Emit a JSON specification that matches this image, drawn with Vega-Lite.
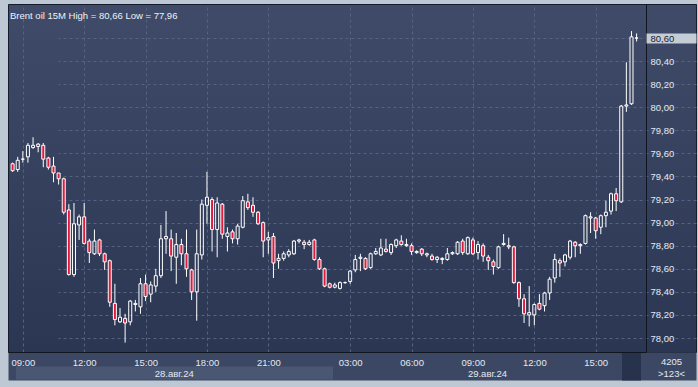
{
  "$schema": "https://vega.github.io/schema/vega-lite/v6.json",
  "width": 688,
  "height": 348,
  "autosize": {"type": "none"},
  "padding": {"left": 8, "top": 4, "right": 2, "bottom": 35},
  "background": "#bec8d5",
  "title": {
    "text": "Brent oil 15M High = 80,66 Low = 77,96",
    "anchor": "start",
    "frame": "group",
    "orient": "top",
    "offset": -16,
    "dx": 2,
    "font": "Liberation Sans",
    "fontSize": 9.5,
    "fontWeight": "normal",
    "color": "#eef2f8"
  },
  "config": {
    "view": {
      "fill": {"gradient": "linear", "x1": 0, "y1": 0, "x2": 0, "y2": 1,
        "stops": [{"offset": 0, "color": "#3f4b68"}, {"offset": 1, "color": "#2b3653"}]},
      "stroke": "#151c2a",
      "strokeWidth": 1
    },
    "axis": {"labelFont": "Liberation Sans", "labelFontSize": 9.5, "labelColor": "#e3e9f2", "labelOverlap": false, "labelFlush": false}
  },
  "data": {"values": [
    {"i":0,"t":"08-28 08:30","open":79.51,"high":79.52,"low":79.44,"close":79.45},
    {"i":1,"t":"08-28 08:45","open":79.46,"high":79.57,"low":79.44,"close":79.54},
    {"i":2,"t":"08-28 09:00","open":79.55,"high":79.62,"low":79.52,"close":79.55},
    {"i":3,"t":"08-28 09:15","open":79.57,"high":79.69,"low":79.52,"close":79.67},
    {"i":4,"t":"08-28 09:30","open":79.65,"high":79.74,"low":79.64,"close":79.67},
    {"i":5,"t":"08-28 09:45","open":79.66,"high":79.69,"low":79.61,"close":79.68},
    {"i":6,"t":"08-28 10:00","open":79.67,"high":79.69,"low":79.48,"close":79.55},
    {"i":7,"t":"08-28 10:15","open":79.56,"high":79.57,"low":79.46,"close":79.48},
    {"i":8,"t":"08-28 10:30","open":79.49,"high":79.57,"low":79.35,"close":79.43},
    {"i":9,"t":"08-28 10:45","open":79.43,"high":79.43,"low":79.33,"close":79.38},
    {"i":10,"t":"08-28 11:00","open":79.38,"high":79.39,"low":79.07,"close":79.09},
    {"i":11,"t":"08-28 11:15","open":79.11,"high":79.16,"low":78.54,"close":78.55},
    {"i":12,"t":"08-28 11:30","open":78.55,"high":79.17,"low":78.53,"close":78.99},
    {"i":13,"t":"08-28 11:45","open":78.98,"high":79.07,"low":78.85,"close":79.05},
    {"i":14,"t":"08-28 12:00","open":79.05,"high":79.17,"low":78.81,"close":78.82},
    {"i":15,"t":"08-28 12:15","open":78.84,"high":78.86,"low":78.65,"close":78.74},
    {"i":16,"t":"08-28 12:30","open":78.73,"high":78.94,"low":78.72,"close":78.84},
    {"i":17,"t":"08-28 12:45","open":78.85,"high":78.86,"low":78.71,"close":78.73},
    {"i":18,"t":"08-28 13:00","open":78.73,"high":78.74,"low":78.59,"close":78.66},
    {"i":19,"t":"08-28 13:15","open":78.67,"high":78.68,"low":78.27,"close":78.31},
    {"i":20,"t":"08-28 13:30","open":78.30,"high":78.47,"low":78.11,"close":78.16},
    {"i":21,"t":"08-28 13:45","open":78.14,"high":78.26,"low":78.13,"close":78.18},
    {"i":22,"t":"08-28 14:00","open":78.17,"high":78.21,"low":77.96,"close":78.13},
    {"i":23,"t":"08-28 14:15","open":78.14,"high":78.33,"low":78.11,"close":78.32},
    {"i":24,"t":"08-28 14:30","open":78.30,"high":78.33,"low":78.23,"close":78.29},
    {"i":25,"t":"08-28 14:45","open":78.27,"high":78.52,"low":78.21,"close":78.47},
    {"i":26,"t":"08-28 15:00","open":78.47,"high":78.55,"low":78.32,"close":78.36},
    {"i":27,"t":"08-28 15:15","open":78.38,"high":78.49,"low":78.31,"close":78.46},
    {"i":28,"t":"08-28 15:30","open":78.45,"high":78.60,"low":78.40,"close":78.54},
    {"i":29,"t":"08-28 15:45","open":78.54,"high":78.98,"low":78.52,"close":78.86},
    {"i":30,"t":"08-28 16:00","open":78.86,"high":79.10,"low":78.73,"close":78.88},
    {"i":31,"t":"08-28 16:15","open":78.86,"high":78.94,"low":78.58,"close":78.71},
    {"i":32,"t":"08-28 16:30","open":78.70,"high":78.91,"low":78.47,"close":78.81},
    {"i":33,"t":"08-28 16:45","open":78.81,"high":78.86,"low":78.63,"close":78.73},
    {"i":34,"t":"08-28 17:00","open":78.73,"high":78.94,"low":78.53,"close":78.60},
    {"i":35,"t":"08-28 17:15","open":78.59,"high":78.60,"low":78.33,"close":78.40},
    {"i":36,"t":"08-28 17:30","open":78.40,"high":78.94,"low":78.15,"close":78.73},
    {"i":37,"t":"08-28 17:45","open":78.72,"high":79.20,"low":78.68,"close":79.16},
    {"i":38,"t":"08-28 18:00","open":79.15,"high":79.44,"low":78.99,"close":79.22},
    {"i":39,"t":"08-28 18:15","open":79.20,"high":79.22,"low":78.75,"close":78.94},
    {"i":40,"t":"08-28 18:30","open":78.94,"high":79.22,"low":78.70,"close":79.17},
    {"i":41,"t":"08-28 18:45","open":79.16,"high":79.17,"low":78.86,"close":78.90},
    {"i":42,"t":"08-28 19:00","open":78.88,"high":78.96,"low":78.75,"close":78.91},
    {"i":43,"t":"08-28 19:15","open":78.92,"high":78.94,"low":78.82,"close":78.86},
    {"i":44,"t":"08-28 19:30","open":78.86,"high":78.99,"low":78.81,"close":78.97},
    {"i":45,"t":"08-28 19:45","open":78.96,"high":79.23,"low":78.95,"close":79.19},
    {"i":46,"t":"08-28 20:00","open":79.18,"high":79.25,"low":79.11,"close":79.13},
    {"i":47,"t":"08-28 20:15","open":79.15,"high":79.22,"low":79.05,"close":79.09},
    {"i":48,"t":"08-28 20:30","open":79.09,"high":79.10,"low":78.98,"close":78.99},
    {"i":49,"t":"08-28 20:45","open":79.00,"high":79.01,"low":78.70,"close":78.84},
    {"i":50,"t":"08-28 21:00","open":78.85,"high":78.92,"low":78.73,"close":78.87},
    {"i":51,"t":"08-28 21:15","open":78.88,"high":78.91,"low":78.52,"close":78.65},
    {"i":52,"t":"08-28 21:30","open":78.67,"high":78.73,"low":78.60,"close":78.69},
    {"i":53,"t":"08-28 21:45","open":78.69,"high":78.75,"low":78.67,"close":78.73},
    {"i":54,"t":"08-28 22:00","open":78.72,"high":78.77,"low":78.70,"close":78.75},
    {"i":55,"t":"08-28 22:15","open":78.73,"high":78.85,"low":78.72,"close":78.84},
    {"i":56,"t":"08-28 22:30","open":78.84,"high":78.86,"low":78.82,"close":78.85},
    {"i":57,"t":"08-28 22:45","open":78.83,"high":78.85,"low":78.77,"close":78.81},
    {"i":58,"t":"08-28 23:00","open":78.81,"high":78.85,"low":78.80,"close":78.83},
    {"i":59,"t":"08-28 23:15","open":78.85,"high":78.86,"low":78.67,"close":78.68},
    {"i":60,"t":"08-28 23:30","open":78.68,"high":78.70,"low":78.59,"close":78.60},
    {"i":61,"t":"08-28 23:45","open":78.60,"high":78.61,"low":78.44,"close":78.45},
    {"i":62,"t":"08-29 02:00","open":78.47,"high":78.48,"low":78.43,"close":78.44},
    {"i":63,"t":"08-29 02:15","open":78.44,"high":78.48,"low":78.43,"close":78.46},
    {"i":64,"t":"08-29 02:30","open":78.43,"high":78.49,"low":78.42,"close":78.48},
    {"i":65,"t":"08-29 02:45","open":78.48,"high":78.49,"low":78.47,"close":78.48},
    {"i":66,"t":"08-29 03:00","open":78.49,"high":78.59,"low":78.47,"close":78.58},
    {"i":67,"t":"08-29 03:15","open":78.59,"high":78.72,"low":78.57,"close":78.68},
    {"i":68,"t":"08-29 03:30","open":78.69,"high":78.73,"low":78.58,"close":78.70},
    {"i":69,"t":"08-29 03:45","open":78.69,"high":78.70,"low":78.59,"close":78.60},
    {"i":70,"t":"08-29 04:00","open":78.61,"high":78.74,"low":78.60,"close":78.73},
    {"i":71,"t":"08-29 04:15","open":78.73,"high":78.78,"low":78.72,"close":78.75},
    {"i":72,"t":"08-29 04:30","open":78.72,"high":78.86,"low":78.71,"close":78.78},
    {"i":73,"t":"08-29 04:45","open":78.77,"high":78.86,"low":78.74,"close":78.75},
    {"i":74,"t":"08-29 05:00","open":78.74,"high":78.82,"low":78.72,"close":78.81},
    {"i":75,"t":"08-29 05:15","open":78.80,"high":78.86,"low":78.78,"close":78.85},
    {"i":76,"t":"08-29 05:30","open":78.84,"high":78.89,"low":78.80,"close":78.81},
    {"i":77,"t":"08-29 05:45","open":78.80,"high":78.86,"low":78.79,"close":78.81},
    {"i":78,"t":"08-29 06:00","open":78.80,"high":78.82,"low":78.72,"close":78.75},
    {"i":79,"t":"08-29 06:15","open":78.74,"high":78.76,"low":78.73,"close":78.75},
    {"i":80,"t":"08-29 06:30","open":78.77,"high":78.78,"low":78.71,"close":78.73},
    {"i":81,"t":"08-29 06:45","open":78.72,"high":78.74,"low":78.70,"close":78.73},
    {"i":82,"t":"08-29 07:00","open":78.71,"high":78.73,"low":78.67,"close":78.68},
    {"i":83,"t":"08-29 07:15","open":78.68,"high":78.71,"low":78.65,"close":78.70},
    {"i":84,"t":"08-29 07:30","open":78.68,"high":78.70,"low":78.64,"close":78.69},
    {"i":85,"t":"08-29 07:45","open":78.68,"high":78.78,"low":78.67,"close":78.73},
    {"i":86,"t":"08-29 08:00","open":78.73,"high":78.75,"low":78.72,"close":78.74},
    {"i":87,"t":"08-29 08:15","open":78.73,"high":78.84,"low":78.72,"close":78.83},
    {"i":88,"t":"08-29 08:30","open":78.84,"high":78.86,"low":78.72,"close":78.74},
    {"i":89,"t":"08-29 08:45","open":78.73,"high":78.88,"low":78.72,"close":78.87},
    {"i":90,"t":"08-29 09:00","open":78.85,"high":78.87,"low":78.72,"close":78.73},
    {"i":91,"t":"08-29 09:15","open":78.74,"high":78.84,"low":78.68,"close":78.81},
    {"i":92,"t":"08-29 09:30","open":78.80,"high":78.82,"low":78.66,"close":78.71},
    {"i":93,"t":"08-29 09:45","open":78.70,"high":78.72,"low":78.59,"close":78.67},
    {"i":94,"t":"08-29 10:00","open":78.66,"high":78.68,"low":78.55,"close":78.62},
    {"i":95,"t":"08-29 10:15","open":78.61,"high":78.80,"low":78.60,"close":78.79},
    {"i":96,"t":"08-29 10:30","open":78.81,"high":78.90,"low":78.80,"close":78.82},
    {"i":97,"t":"08-29 10:45","open":78.80,"high":78.87,"low":78.77,"close":78.79},
    {"i":98,"t":"08-29 11:00","open":78.79,"high":78.80,"low":78.47,"close":78.48},
    {"i":99,"t":"08-29 11:15","open":78.48,"high":78.49,"low":78.27,"close":78.34},
    {"i":100,"t":"08-29 11:30","open":78.34,"high":78.38,"low":78.13,"close":78.21},
    {"i":101,"t":"08-29 11:45","open":78.20,"high":78.45,"low":78.10,"close":78.22},
    {"i":102,"t":"08-29 12:00","open":78.20,"high":78.30,"low":78.11,"close":78.29},
    {"i":103,"t":"08-29 12:15","open":78.30,"high":78.38,"low":78.24,"close":78.25},
    {"i":104,"t":"08-29 12:30","open":78.28,"high":78.40,"low":78.23,"close":78.39},
    {"i":105,"t":"08-29 12:45","open":78.39,"high":78.53,"low":78.33,"close":78.51},
    {"i":106,"t":"08-29 13:00","open":78.52,"high":78.73,"low":78.48,"close":78.68},
    {"i":107,"t":"08-29 13:15","open":78.67,"high":78.69,"low":78.53,"close":78.65},
    {"i":108,"t":"08-29 13:30","open":78.66,"high":78.73,"low":78.62,"close":78.72},
    {"i":109,"t":"08-29 13:45","open":78.70,"high":78.85,"low":78.68,"close":78.84},
    {"i":110,"t":"08-29 14:00","open":78.83,"high":78.84,"low":78.70,"close":78.80},
    {"i":111,"t":"08-29 14:15","open":78.80,"high":78.82,"low":78.73,"close":78.81},
    {"i":112,"t":"08-29 14:30","open":78.82,"high":79.07,"low":78.81,"close":79.06},
    {"i":113,"t":"08-29 14:45","open":79.04,"high":79.09,"low":78.91,"close":79.05},
    {"i":114,"t":"08-29 15:00","open":79.04,"high":79.05,"low":78.86,"close":78.93},
    {"i":115,"t":"08-29 15:15","open":78.96,"high":79.07,"low":78.90,"close":79.06},
    {"i":116,"t":"08-29 15:30","open":79.06,"high":79.19,"low":78.96,"close":79.09},
    {"i":117,"t":"08-29 15:45","open":79.10,"high":79.26,"low":79.07,"close":79.25},
    {"i":118,"t":"08-29 16:00","open":79.25,"high":79.30,"low":79.10,"close":79.19},
    {"i":119,"t":"08-29 16:15","open":79.18,"high":80.02,"low":79.17,"close":80.01},
    {"i":120,"t":"08-29 16:30","open":80.01,"high":80.39,"low":79.96,"close":80.02},
    {"i":121,"t":"08-29 16:45","open":80.03,"high":80.66,"low":80.02,"close":80.61},
    {"i":122,"t":"08-29 17:00","open":80.60,"high":80.64,"low":80.57,"close":80.60}
  ]},
  "resolve": {"axis": {"x": "independent", "y": "independent"}},
  "layer": [
    {
      "transform": [{"filter": "datum.close >= datum.open"}],
      "mark": {"type": "rule", "color": "#ffffff", "strokeWidth": 1, "clip": true},
      "encoding": {
        "x": {"field": "i", "type": "quantitative", "scale": {"domain": [0.08, 122.86], "range": [0, 638], "nice": false, "zero": false},
          "axis": {"values": [66.28], "grid": false, "labels": false, "ticks": true, "tickSize": 28, "tickWidth": 688, "tickColor": "#3c4863", "domain": false, "title": null, "zindex": 0}},
        "y": {"field": "high", "type": "quantitative", "scale": {"domain": [77.8787, 80.8947], "nice": false, "zero": false},
          "axis": {"orient": "right", "offset": -50, "values": [78, 78.2, 78.4, 78.6, 78.8, 79, 79.2, 79.4, 79.6, 79.8, 80, 80.2, 80.4, 80.6], "grid": true, "gridColor": "#56627f", "gridDash": [3, 3], "gridWidth": 1, "labels": false, "ticks": false, "domain": true, "domainColor": "#10161f", "domainWidth": 1, "title": null, "zindex": 0}},
        "y2": {"field": "close"}
      }
    },
    {
      "transform": [{"filter": "datum.close >= datum.open"}],
      "mark": {"type": "rule", "color": "#ffffff", "strokeWidth": 1, "clip": true},
      "encoding": {
        "x": {"field": "i", "type": "quantitative", "scale": {"domain": [0.08, 122.86], "range": [0, 638], "nice": false, "zero": false},
          "axis": {"values": [2, 14, 26, 38, 50, 66, 78, 90, 102, 114], "grid": true, "gridColor": "#56627f", "gridDash": [3, 3], "gridWidth": 1, "labels": false, "ticks": false, "domain": false, "title": null, "zindex": 0}},
        "y": {"field": "open", "type": "quantitative", "scale": {"domain": [77.8787, 80.8947], "nice": false, "zero": false},
          "axis": {"orient": "right", "offset": -50, "values": [80.6], "labels": false, "ticks": false, "domain": false, "grid": false,
            "title": ["4205", ">123<"], "titleAngle": 0, "titleX": 25, "titleY": 352, "titleAlign": "center", "titleBaseline": "top",
            "titleFont": "Liberation Sans", "titleFontSize": 9.5, "titleFontWeight": "normal", "titleColor": "#e3e9f2", "titleLineHeight": 12, "zindex": 1}},
        "y2": {"field": "low"}
      }
    },
    {
      "transform": [{"filter": "datum.close < datum.open"}],
      "mark": {"type": "rule", "color": "#ffffff", "strokeWidth": 1, "clip": true},
      "encoding": {
        "x": {"field": "i", "type": "quantitative", "scale": {"domain": [0.08, 122.86], "range": [0, 638], "nice": false, "zero": false}, "axis": null},
        "y": {"field": "high", "type": "quantitative", "scale": {"domain": [77.8787, 80.8947], "nice": false, "zero": false}, "axis": null},
        "y2": {"field": "open"}
      }
    },
    {
      "transform": [{"filter": "datum.close < datum.open"}],
      "mark": {"type": "rule", "color": "#ffffff", "strokeWidth": 1, "clip": true},
      "encoding": {
        "x": {"field": "i", "type": "quantitative", "scale": {"domain": [0.08, 122.86], "range": [0, 638], "nice": false, "zero": false}, "axis": null},
        "y": {"field": "close", "type": "quantitative", "scale": {"domain": [77.8787, 80.8947], "nice": false, "zero": false}, "axis": null},
        "y2": {"field": "low"}
      }
    },
    {
      "transform": [{"filter": "datum.close >= datum.open"}],
      "mark": {"type": "bar", "orient": "vertical", "size": 3, "fill": "#000000", "fillOpacity": 0, "stroke": "#ffffff", "strokeWidth": 1, "clip": true},
      "encoding": {
        "x": {"field": "i", "type": "quantitative", "scale": {"domain": [0.08, 122.86], "range": [0, 638], "nice": false, "zero": false},
          "axis": {"orient": "bottom", "offset": 14, "values": [31.52, 92.74], "labelExpr": "datum.value < 60 ? '28.авг.24' : '29.авг.24'", "domain": false, "ticks": true, "tickSize": 13, "tickColor": "#4a5772", "tickWidth": {"condition": {"test": "datum.value < 60", "value": 317}, "value": 0}, "labelPadding": -11, "labelBaseline": "top", "grid": false, "title": null, "zindex": 1}},
        "y": {"field": "open", "type": "quantitative", "scale": {"domain": [77.8787, 80.8947], "nice": false, "zero": false},
          "axis": {"orient": "right", "offset": -50, "values": [78, 78.2, 78.4, 78.6, 78.8, 79, 79.2, 79.4, 79.6, 79.8, 80, 80.2, 80.4, 80.6], "labelExpr": "datum.value > 80.5 ? '' : replace(format(datum.value, '.2f'), '.', ',')", "grid": false, "ticks": false, "domain": false, "labelPadding": 4, "labelBaseline": "middle", "title": null, "zindex": 0}},
        "y2": {"field": "close"}
      }
    },
    {
      "transform": [{"filter": "datum.close < datum.open"}],
      "mark": {"type": "bar", "orient": "vertical", "size": 3, "fill": "#e11a3d", "stroke": "#ffffff", "strokeWidth": 1, "clip": true},
      "encoding": {
        "x": {"field": "i", "type": "quantitative", "scale": {"domain": [0.08, 122.86], "range": [0, 638], "nice": false, "zero": false},
          "axis": {"orient": "bottom", "offset": 0, "values": [2, 14, 26, 38, 50, 66, 78, 90, 102, 114, 120.84],
            "labelExpr": "datum.value > 120 ? '' : ['09:00','12:00','15:00','18:00','21:00','03:00','06:00','09:00','12:00','15:00'][indexof([2,14,26,38,50,66,78,90,102,114], datum.value)]",
            "domain": true, "domainColor": "#10161f", "domainWidth": 1, "ticks": true, "tickSize": 28,
            "tickWidth": {"condition": {"test": "datum.value > 120", "value": 19}, "value": 0},
            "tickColor": {"condition": {"test": "datum.value > 120", "value": "#27334c"}, "value": "transparent"},
            "labelPadding": -23, "labelBaseline": "top", "grid": false, "title": null, "zindex": 1}},
        "y": {"field": "open", "type": "quantitative", "scale": {"domain": [77.8787, 80.8947], "nice": false, "zero": false},
          "axis": {"orient": "right", "offset": -50, "values": [80.6], "labelExpr": "replace(format(datum.value, '.2f'), '.', ',')", "ticks": true, "tickSize": 50, "tickWidth": 10, "tickColor": "#c4ccd6", "labelColor": "#1a2233", "labelPadding": -46, "labelBaseline": "middle", "domain": false, "grid": false, "title": null, "zindex": 1}},
        "y2": {"field": "close"}
      }
    }
  ]
}
